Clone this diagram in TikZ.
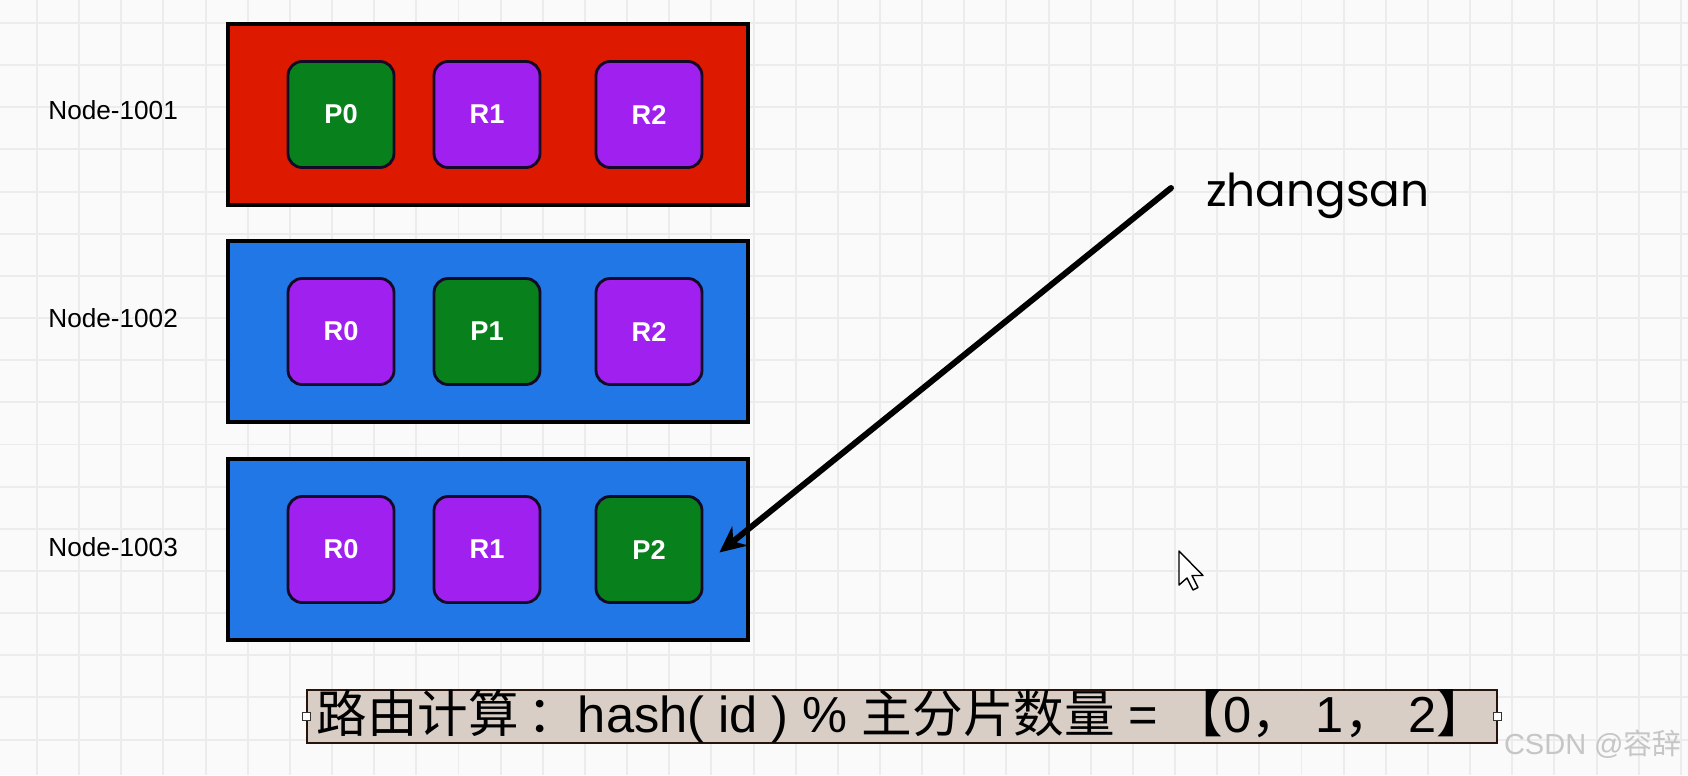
\documentclass[tikz,border=0pt]{standalone}
\usepackage{fontspec}
\setmainfont{Liberation Sans}
\newfontfamily\cjk{Noto Sans CJK SC}
\newfontfamily\roundfont{Poppins}
\usetikzlibrary{arrows.meta}

\definecolor{shardred}{RGB}{221,26,0}
\definecolor{shardblue}{RGB}{34,119,230}
\definecolor{primgreen}{RGB}{8,128,28}
\definecolor{replpurple}{RGB}{160,32,240}
\definecolor{gridgray}{RGB}{236,236,236}
\definecolor{paper}{RGB}{250,250,250}
\definecolor{barfill}{RGB}{216,206,198}

\tikzset{
	shardbox/.style={draw=black, line width=1.8pt, minimum width=10.4cm, minimum height=3.62cm, inner sep=0pt},
	shard/.style={draw={rgb,255:red,20; green,10; blue,40}, line width=1.6pt, rounded corners=0.28cm, minimum size=2.12cm, inner sep=0pt, text=white, font=\fontsize{15.5pt}{18pt}\selectfont\bfseries},
	primary/.style={shard, fill=primgreen},
	replica/.style={shard, fill=replpurple},
	nodelabel/.style={anchor=west, inner sep=0pt, font=\fontsize{14.9pt}{17pt}\selectfont},
	route/.style={line width=3.4pt, line cap=round, -{Stealth[length=15pt,width=14pt]}},
	handle/.style={draw=black!80, fill=white, line width=0.6pt, minimum size=0.16cm, inner sep=0pt},
}

\begin{document}
\begin{tikzpicture}[x=0.02cm, y=-0.02cm]
	\useasboundingbox (0,0) rectangle (1688,775);
	\fill[paper] (0,0) rectangle (1688,775);
	
	% grid
	\foreach \i in {0,...,39}
		\draw[gridgray, line width=1.1pt] ({37+42.15*\i},0) -- ({37+42.15*\i},775);
	\foreach \j in {0,...,17}
		\draw[gridgray, line width=1.1pt] (0,{23+42.15*\j}) -- (1688,{23+42.15*\j});
	
	% data nodes
	\node[shardbox, fill=shardred] (n1001) at (488,114.5) {};
	\node[shardbox, fill=shardblue] (n1002) at (488,331.5) {};
	\node[shardbox, fill=shardblue] (n1003) at (488,549.5) {};
	
	\node[nodelabel] (l1001) at (48,110) {Node-1001};
	\node[nodelabel] (l1002) at (48,318) {Node-1002};
	\node[nodelabel] (l1003) at (48,547) {Node-1003};
	
	% shards
	\node[primary] (a0) at (341,114.5) {P0};
	\node[replica] (a1) at (487,114.5) {R1};
	\node[replica] (a2) at (649,114.5) {R2};
	
	\node[replica] (b0) at (341,331.5) {R0};
	\node[primary] (b1) at (487,331.5) {P1};
	\node[replica] (b2) at (649,331.5) {R2};
	
	\node[replica] (c0) at (341,549.5) {R0};
	\node[replica] (c1) at (487,549.5) {R1};
	\node[primary] (c2) at (649,549.5) {P2};
	
	% document id and route
	\node[anchor=west, inner sep=0pt, font=\roundfont\fontsize{25.8pt}{30pt}\selectfont] (zs) at (1206,196) {zhangsan};
	\coordinate (src) at ([xshift=-0.7cm, yshift=0.16cm]zs.west);
	\coordinate (dst) at ([xshift=0.32cm, yshift=-0.06cm]c2.east);
	\draw[route] (src) -- (dst);
	
	% formula bar
	\node[draw={rgb,255:red,40; green,20; blue,10}, fill=barfill, line width=1.2pt, minimum width=23.8cm, minimum height=1.06cm, inner sep=0pt, font=\fontsize{28.8pt}{32pt}\selectfont] (calc) at (902,716.5)
		{{\cjk 路由计算\,：}hash( id ) \% {\cjk 主分片数量} = {\cjk 【}0{\cjk ，} 1{\cjk ，} 2{\cjk 】}};
	\node[handle] (hl) at (calc.west) {};
	\node[handle] (hr) at (calc.east) {};
	
	% pointer
	\draw[fill=white, line width=0.8pt, line join=round] (1179,551) -- ++(0,34) -- ++(8,-7) -- ++(6,12) -- ++(5,-2.5) -- ++(-6,-12) -- ++(11,0) -- cycle;
	
	\node[anchor=east, inner sep=0pt, text=gray!45, font=\fontsize{16.5pt}{20pt}\selectfont] (mark) at (1682,744) {CSDN @{\cjk 容辞}};
\end{tikzpicture}
\end{document}
